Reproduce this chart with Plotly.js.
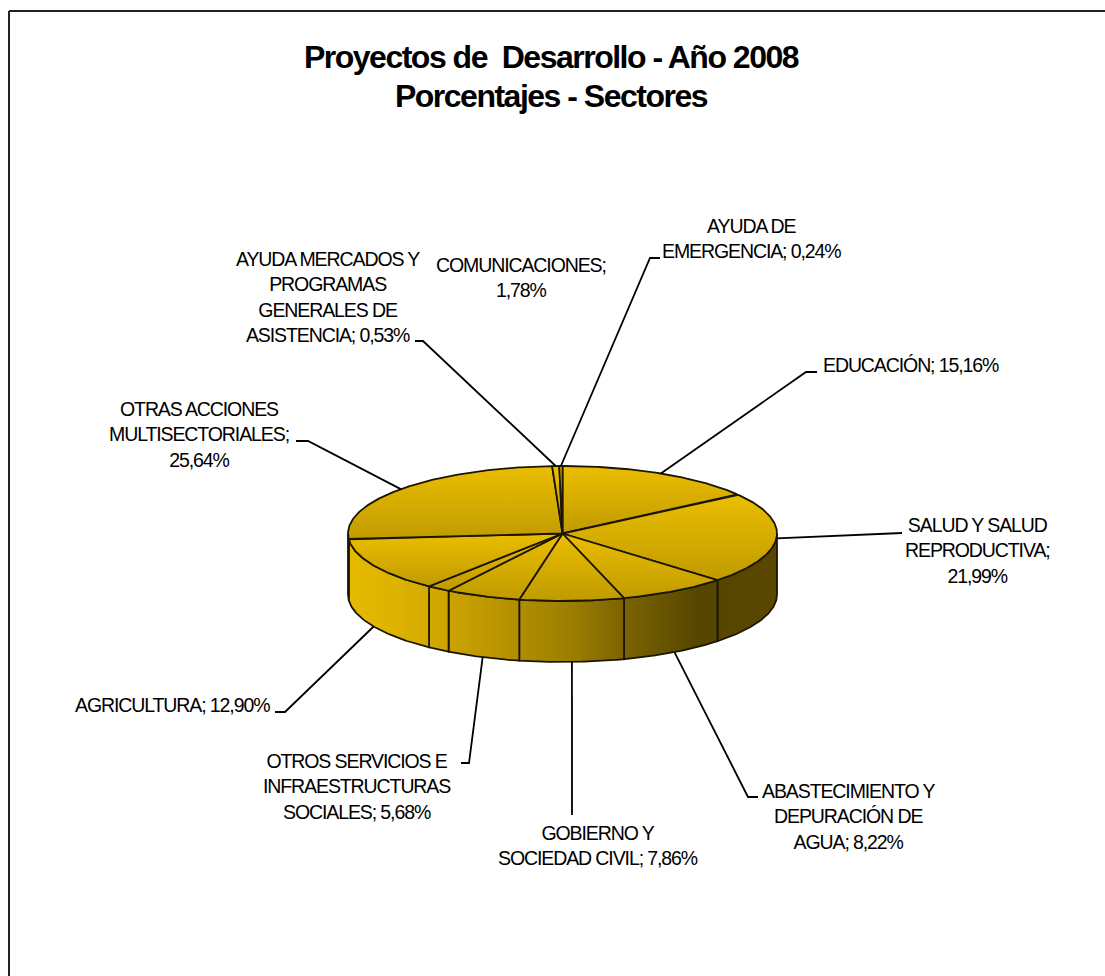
<!DOCTYPE html>
<html><head><meta charset="utf-8">
<script src="https://cdn.plot.ly/plotly-3.0.1.min.js"></script>
<style>
html,body{margin:0;padding:0;background:#fff;overflow:hidden}
#chart{width:1105px;height:976px}
.annotation-text{letter-spacing:-1.1px}
.gtitle{letter-spacing:-1.5px}
</style></head><body><div id="chart"></div>
<script>
// Data, clockwise from 12 o'clock
const categories = ["EDUCACIÓN;","SALUD Y SALUD<br>REPRODUCTIVA;","ABASTECIMIENTO Y<br>DEPURACIÓN DE<br>AGUA;","GOBIERNO Y<br>SOCIEDAD CIVIL;","OTROS SERVICIOS E<br>INFRAESTRUCTURAS<br>SOCIALES;","COMUNICACIONES;","AGRICULTURA;","OTRAS ACCIONES<br>MULTISECTORIALES;","AYUDA MERCADOS Y<br>PROGRAMAS<br>GENERALES DE<br>ASISTENCIA;","AYUDA DE<br>EMERGENCIA;"];
const values = [15.16,21.99,8.22,7.86,5.68,1.78,12.90,25.64,0.53,0.24];
const valueBreak = [" ","<br>"," "," "," ","<br>"," ","<br>"," "," "];

// Layout of the label blocks: centre x, centre y
const labelX = [911,977,848,598,357,521,172,199,328,751];
const labelY = [365,550,816,845,786,277,705,434,297,238];
// Leader lines: pixel waypoints after the slice anchor (null = no leader)
const leaders = [[[806,372],[817,372]],[[892,533],[902,533]],[[748,797],[758,797]],[[572,815]],[[469,763],[461,763]],null,[[285,712],[275,712]],[[308,441],[296,441]],[[423,341],[415,341]],[[650,258],[660,258]]];

const titleText = "Proyectos de  Desarrollo - Año 2008<br>Porcentajes - Sectores";
const W=1105,H=976;
const cx=562.5,cy=533.5,rx=214.5,ry=67.5,depth=61;
const edge='#1c1600';
const wallScale=[[0,'#E6BA00'],[0.12,'#DDB200'],[0.31,'#C09A00'],[0.52,'#9C7E00'],[0.63,'#7F6600'],[0.82,'#564500'],[1,'#5A4800']];
const topScale=[[0,'#EBBE00'],[1,'#C09B00']];

const pt=(deg,dy=0)=>{const t=deg*Math.PI/180;return [cx+rx*Math.sin(t),cy-ry*Math.cos(t)+dy];};
const arc=(a,b,dy=0)=>{const out=[];const n=Math.max(2,Math.ceil(Math.abs(b-a)/0.5));for(let i=0;i<=n;i++)out.push(pt(a+(b-a)*i/n,dy));return out;};

const total=values.reduce((s,v)=>s+v,0);
let run=0;
const bounds=values.map(v=>{const a=run/total*360;run+=v;return [a,run/total*360];});

const traces=[];
const poly=(pts,grad)=>{const x=pts.map(p=>p[0]),y=pts.map(p=>p[1]);x.push(x[0]);y.push(y[0]);
  traces.push({type:'scatter',mode:'lines',x,y,fill:'toself',fillgradient:grad,line:{color:edge,width:1.8},hoverinfo:'skip',showlegend:false});};

// side wall
bounds.forEach(([a,b])=>{const s=Math.max(a,90),e=Math.min(b,270);if(e<=s)return;
  const pts=arc(s,e,0).concat(arc(e,s,depth));
  poly(pts,{type:'horizontal',colorscale:wallScale,start:cx-rx,stop:cx+rx});});
// top face
bounds.forEach(([a,b])=>{const pts=[[cx,cy]].concat(arc(a,b,0));const ys=pts.map(p=>p[1]);
  poly(pts,{type:'vertical',colorscale:topScale,start:Math.min(...ys),stop:Math.max(...ys)});});
// leaders
bounds.forEach(([a,b],i)=>{if(!leaders[i])return;const m=(a+b)/2;const front=m>95&&m<265;const p=pt(m,front?depth:0);
  const all=[p].concat(leaders[i]);
  traces.push({type:'scatter',mode:'lines',x:all.map(q=>q[0]),y:all.map(q=>q[1]),line:{color:'#000',width:1.8},hoverinfo:'skip',showlegend:false});});

const fmt=v=>v.toFixed(2).replace('.',',')+'%';
const annotations=categories.map((c,i)=>({xref:'x',yref:'y',x:labelX[i],y:labelY[i],text:c+valueBreak[i]+fmt(values[i]),showarrow:false,xanchor:'center',yanchor:'middle',align:'center',font:{family:'Liberation Sans, Arial, sans-serif',size:19.5,color:'#000'}}));

const layout={width:W,height:H,margin:{l:0,r:0,t:0,b:0},paper_bgcolor:'#fff',plot_bgcolor:'#fff',showlegend:false,
  title:{text:titleText,x:551/W,xanchor:'center',y:1-68/H,yanchor:'middle',font:{family:'Liberation Sans, Arial, sans-serif',size:32,color:'#000',weight:700}},
  xaxis:{range:[0,W],visible:false,fixedrange:true},yaxis:{range:[H,0],visible:false,fixedrange:true},
  annotations,
  shapes:[{type:'line',xref:'x',yref:'y',x0:9,y0:11,x1:W,y1:11,line:{color:'#222',width:2}},{type:'line',xref:'x',yref:'y',x0:9,y0:11,x1:9,y1:H,line:{color:'#222',width:2}}]};
Plotly.newPlot('chart',traces,layout,{displayModeBar:false,staticPlot:true}).then(()=>{
  // tighter title leading than Plotly's fixed 1.3em
  document.querySelectorAll('.gtitle tspan.line').forEach(t=>{if(parseFloat(t.getAttribute('dy'))>0)t.setAttribute('dy','1.22em');});
});
</script></body></html>
